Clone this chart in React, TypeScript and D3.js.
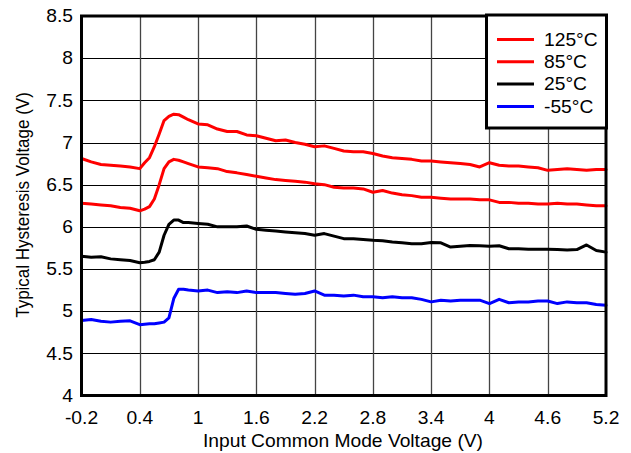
import React from "react";
import * as d3 from "d3";

const xValues = [-0.2,-0.1,0,0.1,0.2,0.3,0.4,0.45,0.5,0.55,0.6,0.65,0.7,0.75,0.8,0.85,0.9,1.0,1.1,1.2,1.3,1.4,1.5,1.6,1.7,1.8,1.9,2.0,2.1,2.2,2.3,2.4,2.5,2.6,2.7,2.8,2.9,3.0,3.1,3.2,3.3,3.4,3.5,3.6,3.7,3.8,3.9,4.0,4.1,4.2,4.3,4.4,4.5,4.6,4.7,4.8,4.9,5.0,5.1,5.2];

const t125 = [6.81,6.77,6.74,6.73,6.72,6.71,6.69,6.76,6.82,6.95,7.1,7.26,7.31,7.335,7.33,7.3,7.27,7.22,7.21,7.16,7.13,7.13,7.09,7.08,7.05,7.02,7.03,7.0,6.98,6.95,6.96,6.93,6.9,6.89,6.89,6.87,6.84,6.82,6.81,6.8,6.78,6.78,6.77,6.76,6.75,6.74,6.71,6.76,6.73,6.72,6.72,6.71,6.7,6.67,6.68,6.69,6.68,6.67,6.68,6.68];
const t85 = [6.28,6.27,6.26,6.25,6.23,6.22,6.19,6.21,6.24,6.33,6.5,6.69,6.77,6.8,6.79,6.77,6.75,6.71,6.7,6.69,6.655,6.64,6.62,6.6,6.58,6.56,6.55,6.54,6.53,6.51,6.5,6.47,6.46,6.46,6.45,6.41,6.43,6.4,6.38,6.37,6.35,6.35,6.34,6.33,6.33,6.33,6.32,6.32,6.29,6.29,6.28,6.28,6.27,6.27,6.28,6.27,6.27,6.26,6.25,6.25];
const t25 = [5.65,5.64,5.645,5.62,5.61,5.6,5.575,5.58,5.59,5.61,5.7,5.9,6.03,6.08,6.08,6.05,6.05,6.04,6.03,6.0,6.0,6.0,6.01,5.97,5.96,5.95,5.94,5.93,5.92,5.9,5.92,5.89,5.86,5.86,5.85,5.84,5.835,5.82,5.81,5.8,5.8,5.815,5.81,5.76,5.77,5.78,5.775,5.77,5.775,5.74,5.74,5.735,5.735,5.735,5.73,5.725,5.73,5.785,5.72,5.7];
const tm55 = [4.89,4.9,4.88,4.87,4.88,4.885,4.84,4.845,4.85,4.85,4.86,4.87,4.92,5.15,5.26,5.26,5.25,5.24,5.25,5.22,5.23,5.22,5.24,5.22,5.22,5.22,5.21,5.2,5.21,5.24,5.19,5.19,5.18,5.19,5.17,5.17,5.16,5.17,5.16,5.16,5.14,5.11,5.13,5.12,5.13,5.13,5.13,5.09,5.14,5.1,5.11,5.11,5.12,5.12,5.09,5.11,5.1,5.1,5.08,5.07];

const seriesNames = ["125°C", "85°C", "25°C", "-55°C"];
const seriesColors = ["#ff0000", "#ff0000", "#000000", "#0000ff"];
const seriesValues = [t125, t85, t25, tm55];

const xTicks = [-0.2, 0.4, 1, 1.6, 2.2, 2.8, 3.4, 4, 4.6, 5.2];
const yTicks = [4, 4.5, 5, 5.5, 6, 6.5, 7, 7.5, 8, 8.5];

const xTitle = "Input Common Mode Voltage (V)";
const yTitle = "Typical Hysteresis Voltage (V)";

export default function App() {
  const W = 631, H = 453;
  const left = 81.5, right = 606, top = 16, bottom = 395.5;
  const x = d3.scaleLinear().domain([-0.2, 5.2]).range([left, right]);
  const y = d3.scaleLinear().domain([4, 8.5]).range([bottom, top]);
  const line = d3.line<[number, number]>().x(d => x(d[0])).y(d => y(d[1])).curve(d3.curveLinear);
  const font = "'Liberation Sans', Arial, sans-serif";
  const fs = 17.5;
  const sx = 1.1;

  const legX = 486.5, legY = 15, legW = 120, legH = 113;

  const HText = (props: { x: number; y: number; anchor: "start" | "middle" | "end"; children: string }) => (
    <text
      transform={`translate(${props.x},${props.y}) scale(${sx},1)`}
      textAnchor={props.anchor}
      fontFamily={font}
      fontSize={fs}
      fill="#000"
    >
      {props.children}
    </text>
  );

  return (
    <div style={{ position: "absolute", left: 0, top: 0 }}>
      <svg width={W} height={H} style={{ display: "block", background: "#fff" }}>
        {yTicks.slice(1, -1).map(t => (
          <line key={"gy" + t} x1={left} x2={right} y1={Math.round(y(t)) + 0.5} y2={Math.round(y(t)) + 0.5} stroke="#000" strokeWidth={1} />
        ))}
        {xTicks.slice(1, -1).map(t => (
          <line key={"gx" + t} x1={Math.round(x(t)) + 0.5} x2={Math.round(x(t)) + 0.5} y1={top} y2={bottom} stroke="#444" strokeWidth={1.3} />
        ))}
        {seriesValues.map((vals, i) => (
          <path key={seriesNames[i]} d={line(xValues.map((xv, j) => [xv, vals[j]] as [number, number])) || ""} fill="none" stroke={seriesColors[i]} strokeWidth={3} strokeLinejoin="round" strokeLinecap="round" />
        ))}
        <rect x={left} y={top} width={right - left} height={bottom - top} fill="none" stroke="#000" strokeWidth={3} />
        <rect x={legX} y={legY} width={legW} height={legH} fill="#fff" stroke="#000" strokeWidth={3} />
        {seriesNames.map((n, i) => (
          <g key={"leg" + n}>
            <line x1={497} x2={534} y1={39.5 + i * 22.3} y2={39.5 + i * 22.3} stroke={seriesColors[i]} strokeWidth={3} />
            <HText x={544} y={45.7 + i * 22.3} anchor="start">{n}</HText>
          </g>
        ))}
        {yTicks.map(t => (
          <HText key={"yt" + t} x={73} y={y(t) + 6.2} anchor="end">{String(t)}</HText>
        ))}
        {xTicks.map(t => (
          <HText key={"xt" + t} x={x(t)} y={424.3} anchor="middle">{String(t)}</HText>
        ))}
        <HText x={343} y={447} anchor="middle">{xTitle}</HText>
        <text transform={`translate(29, 205) rotate(-90) scale(1,1.12)`} textAnchor="middle" fontFamily={font} fontSize={17} fill="#000">{yTitle}</text>
      </svg>
    </div>
  );
}
